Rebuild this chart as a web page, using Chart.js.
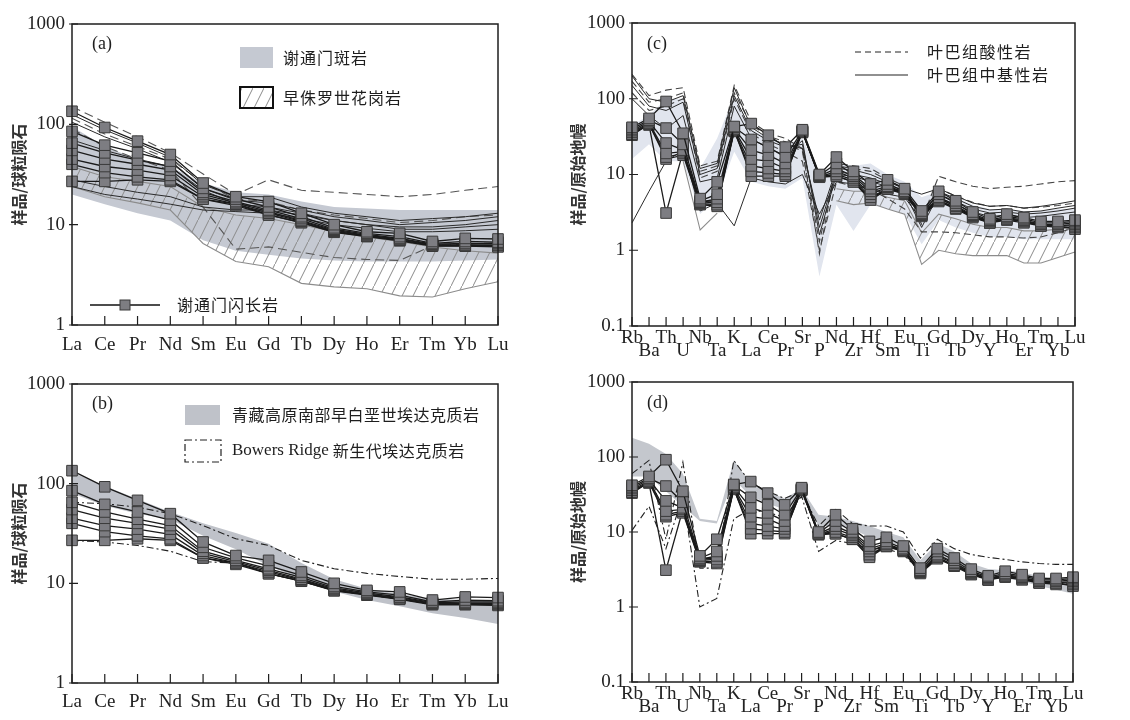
<!DOCTYPE html>
<html>
<head>
<meta charset="utf-8">
<script src="https://cdn.jsdelivr.net/npm/chart.js@4.4.1/dist/chart.umd.min.js"></script>
<style>
  body { margin:0; background:#fff; width:1130px; height:720px; overflow:hidden; position:relative; }
  canvas { position:absolute; }
</style>
</head>
<body>
<canvas id="ca" width="565" height="360" style="left:0;top:0"></canvas>
<canvas id="cb" width="565" height="360" style="left:0;top:360px"></canvas>
<canvas id="cc" width="565" height="360" style="left:565px;top:0"></canvas>
<canvas id="cd" width="565" height="360" style="left:565px;top:360px"></canvas>
<script>
// ---- categories ----
const REE = ['La','Ce','Pr','Nd','Sm','Eu','Gd','Tb','Dy','Ho','Er','Tm','Yb','Lu'];
const SPIDER = ['Rb','Ba','Th','U','Nb','Ta','K','La','Ce','Pr','Sr','P','Nd','Zr','Hf','Sm','Eu','Ti','Gd','Tb','Dy','Y','Ho','Er','Tm','Yb','Lu'];
const TICKS_REE = [1, 10, 100, 1000];
const TICKS_SPIDER = [0.1, 1, 10, 100, 1000];

// ---- 谢通门闪长岩 (chondrite normalised REE) ----
const dioriteREE = [
  [135, 93, 68, 50, 26, 19, 17, 13, 10, 8.5, 8.2, 6.8, 7.3, 7.2],
  [85, 62, 52, 43, 23, 18, 15, 12, 9.3, 8.2, 7.6, 6.5, 6.8, 6.7],
  [65, 52, 44, 38, 21, 17, 14, 11.5, 9, 8, 7.3, 6.4, 6.5, 6.5],
  [55, 45, 40, 35, 20, 16.5, 13.5, 11, 8.8, 7.8, 7.2, 6.3, 6.3, 6.3],
  [45, 38, 35, 31, 19, 16, 13, 10.8, 8.6, 7.7, 7, 6.2, 6.2, 6.2],
  [40, 33, 30, 28, 18, 15.5, 12.5, 10.5, 8.4, 7.6, 6.9, 6.1, 6.1, 6.0],
  [27, 27, 28, 27, 18, 16, 12.5, 10.5, 8.5, 7.7, 7, 6.2, 6.2, 6.1]
];
// ---- 谢通门闪长岩 (primitive mantle normalised) ----
const dioriteSpider = [
  [42, 55, 92, 35, 4.8, 8, 43, 47, 33, 23, 39, 10, 17, 11, 7.5, 8.5, 6.5, 3.3, 6, 4.5, 3.2, 2.6, 3, 2.7, 2.4, 2.4, 2.5],
  [40, 52, 41, 25, 4.5, 5.5, 42, 29, 23, 17, 38, 9.8, 14, 10, 6.5, 7.5, 6, 3.1, 5.5, 4.2, 3, 2.5, 2.8, 2.6, 2.3, 2.3, 2.4],
  [38, 50, 26, 21, 4.3, 4.8, 40, 21, 18, 14, 37, 9.5, 12, 9.5, 6, 7, 5.8, 3, 5, 3.9, 2.9, 2.4, 2.7, 2.5, 2.2, 2.2, 2.3],
  [36, 48, 19, 20, 4.2, 4.3, 39, 16, 15, 12, 37, 9.3, 11, 9, 5.5, 6.8, 5.7, 2.9, 4.8, 3.8, 2.8, 2.4, 2.6, 2.4, 2.2, 2.1, 2.2],
  [34, 47, 17, 19, 4.1, 4, 38, 13, 12, 11, 36, 9.5, 10, 8.5, 5, 6.5, 5.6, 2.9, 4.6, 3.6, 2.8, 2.3, 2.6, 2.4, 2.1, 2.1, 2.1],
  [33, 46, 16, 18, 4, 3.8, 37, 11, 10.5, 10, 36, 9.2, 9.5, 8, 4.6, 6.4, 5.5, 2.8, 4.4, 3.5, 2.7, 2.3, 2.5, 2.3, 2.1, 2, 2],
  [35, 45, 3.1, 20, 4.4, 4.5, 38, 9.5, 9.5, 9.5, 37, 9.5, 9.5, 8, 4.8, 6.5, 5.7, 2.9, 4.5, 3.6, 2.8, 2.3, 2.6, 2.4, 2.1, 2.1, 1.9]
];

// ---- panel (a) ----
const porphyryUpperA = [95, 60, 45, 38, 26, 21, 20, 17, 15, 14.5, 14, 14, 14, 14];
const porphyryLowerA = [20, 16, 13, 11, 7, 5.5, 5, 4.6, 4.4, 4.3, 4.3, 4.3, 4.4, 4.5];
const graniteUpperA = [38, 30, 27, 24, 15, 12.5, 11.5, 10, 8.5, 7.5, 6.8, 6, 5.5, 5.2];
const graniteLowerA = [24, 19, 16.5, 14, 6.5, 4.3, 3.8, 2.6, 2.4, 2.3, 1.95, 1.9, 2.3, 2.7];
const solidLinesA = [
  [125, 88, 65, 47, 25, 19, 19, 15, 13, 12, 11, 11.5, 12, 13],
  [105, 75, 57, 42, 23, 17.5, 16.5, 14, 12, 11, 10, 10.5, 11, 12],
  [70, 55, 45, 38, 22, 16, 15, 13, 11, 10, 9.5, 9.5, 10, 11],
  [28, 24, 21, 19, 15, 14, 14, 12.5, 11, 10, 9, 9, 9.5, 10],
  [24, 20, 18, 16, 14, 13.5, 13, 11.5, 10, 9.2, 8.5, 8.5, 8.7, 9]
];
const dashedLinesA = [
  [150, 105, 75, 52, 32, 20, 28, 22, 21, 20, 19, 20, 22, 24],
  [90, 60, 45, 35, 15, 5.7, 6, 5.3, 4.7, 4.5, 4.4, 6.2, 6.4, 6.6],
  [115, 80, 60, 45, 26, 18, 17, 14, 12.5, 11.5, 10.5, 11, 12, 12.5]
];

// ---- panel (b) ----
const adakiteUpperB = [130, 95, 70, 52, 40, 32, 25, 16, 11, 8.8, 7.8, 7, 6.8, 6.6];
const adakiteLowerB = [80, 60, 50, 44, 30, 22, 15, 11, 8.3, 6.8, 5.9, 5, 4.5, 3.9];
const bowersUpperB = [65, 63, 58, 50, 38, 28, 24, 17, 14, 12.6, 11.7, 11, 11, 11.2];
const bowersLowerB = [27, 26, 24, 21, 16.5, 16, 12.5, 10.5, 8.5, 7.7, 7, 6.2, 6.2, 6.1];

// ---- panel (c) ----
const porphyryUpperC = [45, 60, 100, 100, 12, 30, 110, 40, 30, 25, 30, 10, 14, 13, 14, 10, 8, 5, 6, 5, 4, 3.5, 3.5, 3.3, 3.3, 3.5, 3.5];
const porphyryLowerC = [16, 25, 15, 15, 3, 5, 20, 8, 7, 6.5, 9, 0.45, 4, 1.8, 4, 3.5, 3, 1.2, 2.5, 2, 1.7, 1.5, 1.5, 1.4, 1.4, 1.4, 1.4];
const graniteUpperC = [null, null, null, null, null, null, null, null, null, null, null, null, 6.5, 6, 6, 5, 4.5, 1.7, 3, 2.6, 2.2, 2.0, 2.0, 1.8, 1.8, 1.9, 2.0];
const graniteLowerC = [null, null, null, null, null, null, null, null, null, null, null, null, 4.5, 4, 4.2, 3.5, 3, 0.65, 1.0, 0.9, 0.85, 0.85, 0.85, 0.68, 0.68, 0.8, 0.95];
const graniteEdgeC = [null, null, null, 15, 1.85, 3.1, null, null, null, null, null, null, null, null, null, null, null, null, null, null, null, null, null, null, null, null, null];
const yebaAcidC = [
  [210, 110, 130, 140, 13, 15, 150, 50, 35, 30, 22, 0.9, 14, 13, 12, 9, 7, 2.5, 9.5, 8, 7, 6.5, 6.8, 7, 7.5, 8, 8.3],
  [170, 90, 100, 120, 11, 13, 120, 45, 32, 27, 20, 1.3, 13, 12, 11, 8.5, 6.5, 2.2, 6.5, 5.2, 4.3, 3.8, 3.9, 3.6, 3.7, 3.9, 4.2],
  [120, 70, 80, 100, 9, 11, 100, 35, 25, 20, 15, 1.0, 8, 7, 6.5, 4.8, 3.5, 1.75, 1.75, 1.7, 1.6, 1.5, 1.5, 1.45, 1.5, 1.7, 2.0]
];
const yebaBasicC = [
  [200, 100, 90, 110, 12, 14, 140, 42, 30, 25, 22, 2.5, 12, 11.5, 10, 8, 6.5, 5.5, 6.5, 5.2, 4.2, 3.8, 3.9, 3.6, 3.8, 4.1, 4.5],
  [150, 80, 70, 90, 10, 12, 110, 38, 28, 23, 25, 2.0, 11, 10, 9, 7.5, 6, 2.8, 6, 4.8, 3.8, 3.4, 3.5, 3.2, 3.3, 3.6, 3.9],
  [100, 60, 40, 60, 8, 9, 80, 30, 22, 18, 28, 1.6, 10, 9.5, 8, 7, 5.8, 2.0, 5.5, 4.4, 3.5, 3.1, 3.2, 3.0, 3.1, 3.3, 3.6],
  [2.3, 6, 15, 21, 3.3, 4.2, 2.1, 9, 8, 7.5, 10, 3, 8, 7.5, 6.5, 5.5, 5, 2.5, 5, 4, 3.2, 2.8, 2.9, 2.7, 2.8, 3, 3.2]
];

// ---- panel (d) ----
const adakiteUpperD = [180, 150, 110, 60, 15, 14, 90, 45, 35, 28, 38, 17, 16, 14, 12, 10, 8.5, 4.2, 7, 5.5, 3.8, 3.2, 3.1, 2.9, 2.6, 2.3, 2.1];
const adakiteLowerD = [55, 55, 35, 22, 14, 13, 50, 30, 24, 20, 30, 12, 12, 11, 8.5, 7.5, 6.3, 3.6, 5, 4, 2.9, 2.4, 2.4, 2.2, 1.9, 1.7, 1.5];
const bowersUpperD = [60, 90, 8, 85, 3.3, 3.3, 90, 45, 35, 28, 35, 12, 20, 13, 12, 12, 10, 4.5, 8, 6, 5, 4.6, 4.3, 4.0, 3.8, 3.7, 3.7];
const bowersLowerD = [10.5, 22, 6, 30, 1.0, 1.3, 15, 20, 18, 16, 30, 5.5, 7.7, 7, 6, 6, 5, 3, 4.5, 3.6, 2.8, 2.4, 2.5, 2.3, 2.1, 2.1, 2.0];

const SERIF = '"Liberation Serif", "DejaVu Serif", serif';
const CJK = '"Noto Sans CJK SC", sans-serif';

function hatchPattern() {
  const c = document.createElement('canvas');
  c.width = 11; c.height = 22;
  const g = c.getContext('2d');
  g.strokeStyle = '#8a8a8a';
  g.lineWidth = 1;
  g.beginPath();
  g.moveTo(-1, 24); g.lineTo(12, -2);
  g.stroke();
  return g.createPattern(c, 'repeat');
}
const HATCH = hatchPattern();

function sampleSet(data) {
  return { data, borderColor: '#1a1a1a', borderWidth: 1.3, pointStyle: 'rect', pointRadius: 7.5,
    pointBackgroundColor: '#7d7d82', pointBorderColor: '#3a3a3a', pointBorderWidth: 1,
    clip: false, fill: false, order: 1 };
}
function lineSet(data, color, dash, w) {
  return { data, borderColor: color, borderWidth: w || 1, borderDash: dash || [], pointRadius: 0, fill: false, order: 2 };
}
function band(upper, lower, bg, edge, order) {
  return [
    { data: upper, fill: '+1', backgroundColor: bg, borderColor: edge, borderWidth: 1.1, pointRadius: 0, order },
    { data: lower, fill: false, borderColor: edge, borderWidth: 1.1, pointRadius: 0, order }
  ];
}

const frame = {
  id: 'frame',
  afterDatasetsDraw(chart) {
    const { ctx, chartArea: a, scales: { x, y } } = chart;
    ctx.save();
    ctx.strokeStyle = '#1e1e1e';
    ctx.lineWidth = 1.5;
    ctx.strokeRect(a.left, a.top, a.right - a.left, a.bottom - a.top);
    ctx.lineWidth = 1.2;
    ctx.beginPath();
    x.ticks.forEach((t, i) => {
      const px = x.getPixelForTick(i);
      ctx.moveTo(px, a.bottom); ctx.lineTo(px, a.bottom - 9);
    });
    y.ticks.forEach(t => {
      const py = y.getPixelForValue(t.value);
      ctx.moveTo(a.left - 3, py); ctx.lineTo(a.left + 6, py);
    });
    ctx.stroke();
    ctx.restore();
  }
};

function makeChart(id, cats, spider, ymin, yticks, ytitle, pad, axisH, titlePad, labelPad, datasets, deco) {
  return new Chart(document.getElementById(id), {
    type: 'line',
    data: { labels: cats, datasets },
    options: {
      responsive: false,
      animation: false,
      layout: { padding: pad },
      elements: { line: { tension: 0 } },
      plugins: { legend: { display: false }, tooltip: { enabled: false } },
      scales: {
        x: {
          type: 'category', offset: false,
          grid: { display: false, drawTicks: false }, border: { display: false },
          ticks: {
            autoSkip: false, maxRotation: 0, minRotation: 0, padding: labelPad, color: '#222',
            font: { family: SERIF, size: 19, lineHeight: spider ? 0.7 : 1.2 },
            callback: (v, i) => spider ? (i % 2 === 0 ? [cats[i], ''] : ['', cats[i]]) : cats[i]
          },
          afterFit: s => { s.height = axisH; }
        },
        y: {
          type: 'logarithmic', min: ymin, max: 1000,
          afterBuildTicks: s => { s.ticks = yticks.map(v => ({ value: v })); },
          grid: { display: false, drawTicks: false }, border: { display: false },
          ticks: { padding: 7, color: '#222', font: { family: SERIF, size: 19 }, callback: v => String(v) },
          title: { display: true, text: ytitle, color: '#333', font: { family: CJK, size: 16, weight: 'bold' }, padding: { top: titlePad, bottom: 0 } },
          afterFit: s => { s.width = pad.yw; }
        }
      }
    },
    plugins: [frame, { id: 'deco', afterDraw: c => deco(c.ctx) }]
  });
}

function txt(ctx, s, x, y, font, spacing) {
  ctx.font = font;
  ctx.fillStyle = '#1e1e1e';
  ctx.textBaseline = 'middle';
  ctx.textAlign = 'left';
  ctx.letterSpacing = spacing || '0px';
  ctx.fillText(s, x, y);
  ctx.letterSpacing = '0px';
}

// ---------- (a) ----------
const dsA = [
  ...dioriteREE.map(sampleSet),
  ...solidLinesA.map(d => lineSet(d, '#2a2a2a', [], 1)),
  ...dashedLinesA.map(d => lineSet(d, '#555', [9, 5], 1.1)),
  ...band(graniteUpperA, graniteLowerA, HATCH, '#8c8c8c', 4),
  ...band(porphyryUpperA, porphyryLowerA, '#c5c9d2', 'rgba(0,0,0,0)', 5)
];
makeChart('ca', REE, false, 1, TICKS_REE, '样品/球粒陨石', { left: 0, top: 24, right: 67, bottom: 0, yw: 72 }, 35, 9, 9, dsA, ctx => {
  ctx.save();
  txt(ctx, '(a)', 92, 44, '18px ' + SERIF);
  ctx.fillStyle = '#c5c9d2';
  ctx.fillRect(240, 47, 33, 21);
  txt(ctx, '谢通门斑岩', 283, 58, '16px ' + CJK, '1px');
  ctx.fillStyle = HATCH;
  ctx.fillRect(240, 87, 33, 21);
  ctx.strokeStyle = '#111'; ctx.lineWidth = 2;
  ctx.strokeRect(240, 87, 33, 21);
  txt(ctx, '早侏罗世花岗岩', 283, 98, '16px ' + CJK, '1px');
  ctx.lineWidth = 1.3;
  ctx.beginPath(); ctx.moveTo(90, 305); ctx.lineTo(160, 305); ctx.stroke();
  ctx.fillStyle = '#7d7d82'; ctx.fillRect(120, 300, 10, 10);
  ctx.strokeStyle = '#3a3a3a'; ctx.lineWidth = 1; ctx.strokeRect(120, 300, 10, 10);
  txt(ctx, '谢通门闪长岩', 177, 305, '16px ' + CJK, '1px');
  ctx.restore();
});

// ---------- (b) ----------
const dsB = [
  ...dioriteREE.map(sampleSet),
  lineSet(bowersUpperB, '#222', [7, 3, 2, 3], 1.1),
  lineSet(bowersLowerB, '#222', [7, 3, 2, 3], 1.1),
  ...band(adakiteUpperB, adakiteLowerB, '#bfc2c9', 'rgba(0,0,0,0)', 5)
];
makeChart('cb', REE, false, 1, TICKS_REE, '样品/球粒陨石', { left: 0, top: 24, right: 67, bottom: 0, yw: 72 }, 37, 9, 8, dsB, ctx => {
  ctx.save();
  txt(ctx, '(b)', 92, 44, '18px ' + SERIF);
  ctx.fillStyle = '#bfc2c9';
  ctx.fillRect(185, 45, 35, 20);
  txt(ctx, '青藏高原南部早白垩世埃达克质岩', 232, 55, '16px ' + CJK, '0.5px');
  ctx.strokeStyle = '#222'; ctx.lineWidth = 1.2; ctx.setLineDash([7, 3, 2, 3]);
  ctx.strokeRect(185, 80, 36, 22);
  ctx.setLineDash([]);
  txt(ctx, 'Bowers Ridge', 232, 91, '17px ' + SERIF);
  const w = ctx.measureText('Bowers Ridge').width;
  txt(ctx, '新生代埃达克质岩', 232 + w + 4, 91, '16px ' + CJK, '0.5px');
  ctx.restore();
});

// ---------- (c) ----------
const dsC = [
  ...dioriteSpider.map(sampleSet),
  ...yebaBasicC.map(d => lineSet(d, '#2a2a2a', [], 1)),
  ...yebaAcidC.map(d => lineSet(d, '#444', [7, 4], 1.1)),
  lineSet(graniteEdgeC, '#8c8c8c', [], 1.1),
  ...band(graniteUpperC, graniteLowerC, HATCH, '#8c8c8c', 4),
  ...band(porphyryUpperC, porphyryLowerC, '#e1e5ee', 'rgba(0,0,0,0)', 5)
];
makeChart('cc', SPIDER, true, 0.1, TICKS_SPIDER, '样品/原始地幔', { left: 0, top: 23, right: 55, bottom: 0, yw: 67 }, 34, 3, 5, dsC, ctx => {
  ctx.save();
  txt(ctx, '(c)', 82, 44, '18px ' + SERIF);
  ctx.strokeStyle = '#222'; ctx.lineWidth = 1.2;
  ctx.setLineDash([6, 4]);
  ctx.beginPath(); ctx.moveTo(290, 52); ctx.lineTo(343, 52); ctx.stroke();
  ctx.setLineDash([]);
  ctx.beginPath(); ctx.moveTo(290, 75); ctx.lineTo(343, 75); ctx.stroke();
  txt(ctx, '叶巴组酸性岩', 362, 52, '16px ' + CJK, '1.5px');
  txt(ctx, '叶巴组中基性岩', 362, 75, '16px ' + CJK, '1.5px');
  ctx.restore();
});

// ---------- (d) ----------
const dsD = [
  ...dioriteSpider.map(sampleSet),
  lineSet(bowersUpperD, '#222', [7, 3, 2, 3], 1.1),
  lineSet(bowersLowerD, '#222', [7, 3, 2, 3], 1.1),
  ...band(adakiteUpperD, adakiteLowerD, '#c4c7cd', 'rgba(0,0,0,0)', 5)
];
makeChart('cd', SPIDER, true, 0.1, TICKS_SPIDER, '样品/原始地幔', { left: 0, top: 22, right: 57, bottom: 0, yw: 67 }, 38, 3, 5, dsD, ctx => {
  ctx.save();
  txt(ctx, '(d)', 82, 43, '18px ' + SERIF);
  ctx.restore();
});
</script>
</body>
</html>
